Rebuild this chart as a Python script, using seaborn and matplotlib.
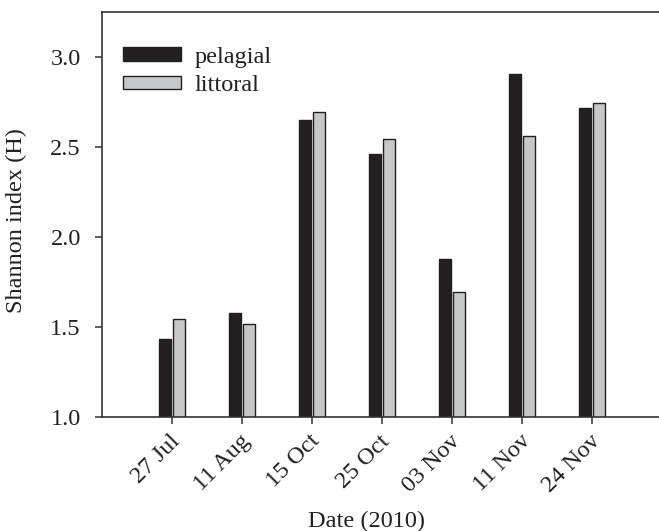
import matplotlib
matplotlib.use("Agg")
import matplotlib.pyplot as plt
import matplotlib.transforms as mtransforms
import seaborn as sns
import pandas as pd

dates = ["27 Jul", "11 Aug", "15 Oct", "25 Oct", "03 Nov", "11 Nov", "24 Nov"]
pelagial = [1.43, 1.575, 2.65, 2.46, 1.875, 2.905, 2.72]
littoral = [1.545, 1.518, 2.695, 2.545, 1.693, 2.563, 2.745]
series_names = ["pelagial", "littoral"]
yticks = [1.0, 1.5, 2.0, 2.5, 3.0]

df = pd.DataFrame({
    "date": dates * 2,
    "value": pelagial + littoral,
    "site": [series_names[0]] * len(dates) + [series_names[1]] * len(dates),
})

sns.set_style("ticks")
plt.rcParams["font.family"] = ["Liberation Serif", "DejaVu Serif"]
txt = "#231f20"
plt.rcParams["text.color"] = txt
plt.rcParams["axes.labelcolor"] = txt
plt.rcParams["xtick.color"] = "#333333"
plt.rcParams["ytick.color"] = "#333333"

FS = 17.5

fig = plt.figure(figsize=(6.59, 5.31), dpi=100)
ax = fig.add_axes([0.1543, 0.2153, 0.8457, 0.7612])

sns.barplot(data=df, x="date", y="value", hue="site", order=dates,
            hue_order=series_names, palette=["#231f20", "#c6c7c9"],
            width=0.4, gap=0.145, edgecolor="#231f20", linewidth=1.0,
            saturation=1, ax=ax)

ax.set_ylim(1.0, 3.25)
ax.set_xlim(-1, 6.95)
ax.set_yticks(yticks)
ax.set_yticklabels([f"{v:.1f}" for v in yticks])

for s in ["left", "bottom", "top"]:
    ax.spines[s].set_visible(True)
    ax.spines[s].set_color("#333333")
    ax.spines[s].set_linewidth(1.2)
ax.spines["right"].set_visible(False)

ax.tick_params(axis="y", direction="out", length=5, width=1.1, pad=10,
               labelsize=FS, labelcolor=txt)
ax.tick_params(axis="x", direction="out", length=5, width=1.1, pad=9,
               labelsize=FS, labelcolor=txt)
ax.tick_params(axis="x", which="both", top=False)
ax.tick_params(axis="y", which="both", right=False)

offset = mtransforms.ScaledTranslation(5 / 100, -2 / 100, fig.dpi_scale_trans)
for lab in ax.get_xticklabels():
    lab.set_rotation(45)
    lab.set_ha("right")
    lab.set_va("center")
    lab.set_rotation_mode("anchor")
    lab.set_transform(lab.get_transform() + offset)

ax.set_xlabel("Date (2010)", fontsize=FS, color=txt)
ax.set_ylabel("Shannon index (H)", fontsize=FS, color=txt)
ax.xaxis.set_label_coords(0.476, -0.232)
ax.yaxis.set_label_coords(-0.134, 0.485)

handles, labels = ax.get_legend_handles_labels()
ax.legend(handles, labels, loc="upper left", bbox_to_anchor=(0.186, 0.912),
          bbox_transform=fig.transFigure, frameon=False, fontsize=FS,
          handlelength=2.39, handleheight=0.49, labelspacing=0.3,
          handletextpad=0.57, borderpad=0, borderaxespad=0)

fig.savefig("out.png", dpi=100)
